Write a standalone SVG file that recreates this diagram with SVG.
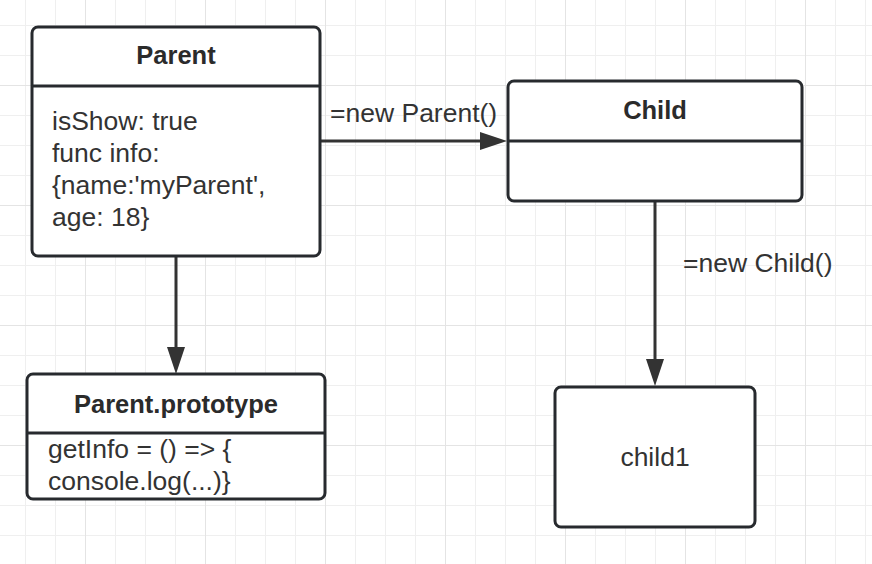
<svg xmlns="http://www.w3.org/2000/svg" width="872" height="564" viewBox="0 0 872 564">
<defs>
<pattern id="minor" x="25" y="25" width="30" height="30" patternUnits="userSpaceOnUse">
<path d="M0,0 H30 M0,0 V30" fill="none" stroke="#efefef" stroke-width="2"/>
</pattern>
<pattern id="major" x="85" y="85" width="120" height="120" patternUnits="userSpaceOnUse">
<path d="M0,0 H120 M0,0 V120" fill="none" stroke="#e4e4e4" stroke-width="2"/>
</pattern>
<marker id="arrow" markerUnits="userSpaceOnUse" markerWidth="27" markerHeight="18" refX="0" refY="9" orient="auto">
<path d="M0,0 L27,9 L0,18 Z" fill="#333333"/>
</marker>
<style>
.box{fill:#ffffff;stroke:#272a2e;stroke-width:3}
.div{stroke:#272a2e;stroke-width:3}
.title{font-family:"Liberation Sans",Arial,sans-serif;font-size:25.5px;font-weight:bold;fill:#2b2b2b;text-anchor:middle}
.body{font-family:"Liberation Sans",Arial,sans-serif;font-size:26.5px;fill:#333333}
.lbl{font-family:"Liberation Sans",Arial,sans-serif;font-size:26.5px;fill:#333333}
.conn{stroke:#333333;stroke-width:3;fill:none}
</style>
</defs>
<rect width="872" height="564" fill="#ffffff"/>
<rect width="872" height="564" fill="url(#minor)"/>
<rect width="872" height="564" fill="url(#major)"/>

<g id="connectors">
<line class="conn" x1="320" y1="141" x2="480" y2="141" marker-end="url(#arrow)"/>
<line class="conn" x1="176" y1="256" x2="176" y2="347" marker-end="url(#arrow)"/>
<line class="conn" x1="655" y1="201" x2="655" y2="359" marker-end="url(#arrow)"/>
<text class="lbl" x="330" y="122">=new Parent()</text>
<text class="lbl" x="683" y="272">=new Child()</text>
</g>

<g id="parent">
<rect class="box" x="32" y="27" width="288" height="229" rx="6"/>
<line class="div" x1="32" y1="86" x2="320" y2="86"/>
<text class="title" x="176" y="64">Parent</text>
<text class="body" x="52" y="130">isShow: true</text>
<text class="body" x="52" y="162">func info:</text>
<text class="body" x="52" y="194">{name:'myParent',</text>
<text class="body" x="52" y="226">age: 18}</text>
</g>

<g id="child">
<rect class="box" x="508" y="81" width="294" height="120" rx="6"/>
<line class="div" x1="508" y1="141" x2="802" y2="141"/>
<text class="title" x="655" y="119">Child</text>
</g>

<g id="parent-prototype">
<rect class="box" x="27" y="374" width="298" height="125" rx="6"/>
<line class="div" x1="27" y1="433" x2="325" y2="433"/>
<text class="title" x="176" y="413">Parent.prototype</text>
<text class="body" x="48" y="458">getInfo = () =&gt; {</text>
<text class="body" x="48" y="490">console.log(...)}</text>
</g>

<g id="child1">
<rect class="box" x="555" y="387" width="200" height="140" rx="6"/>
<text class="lbl" x="655" y="466" text-anchor="middle">child1</text>
</g>
</svg>
